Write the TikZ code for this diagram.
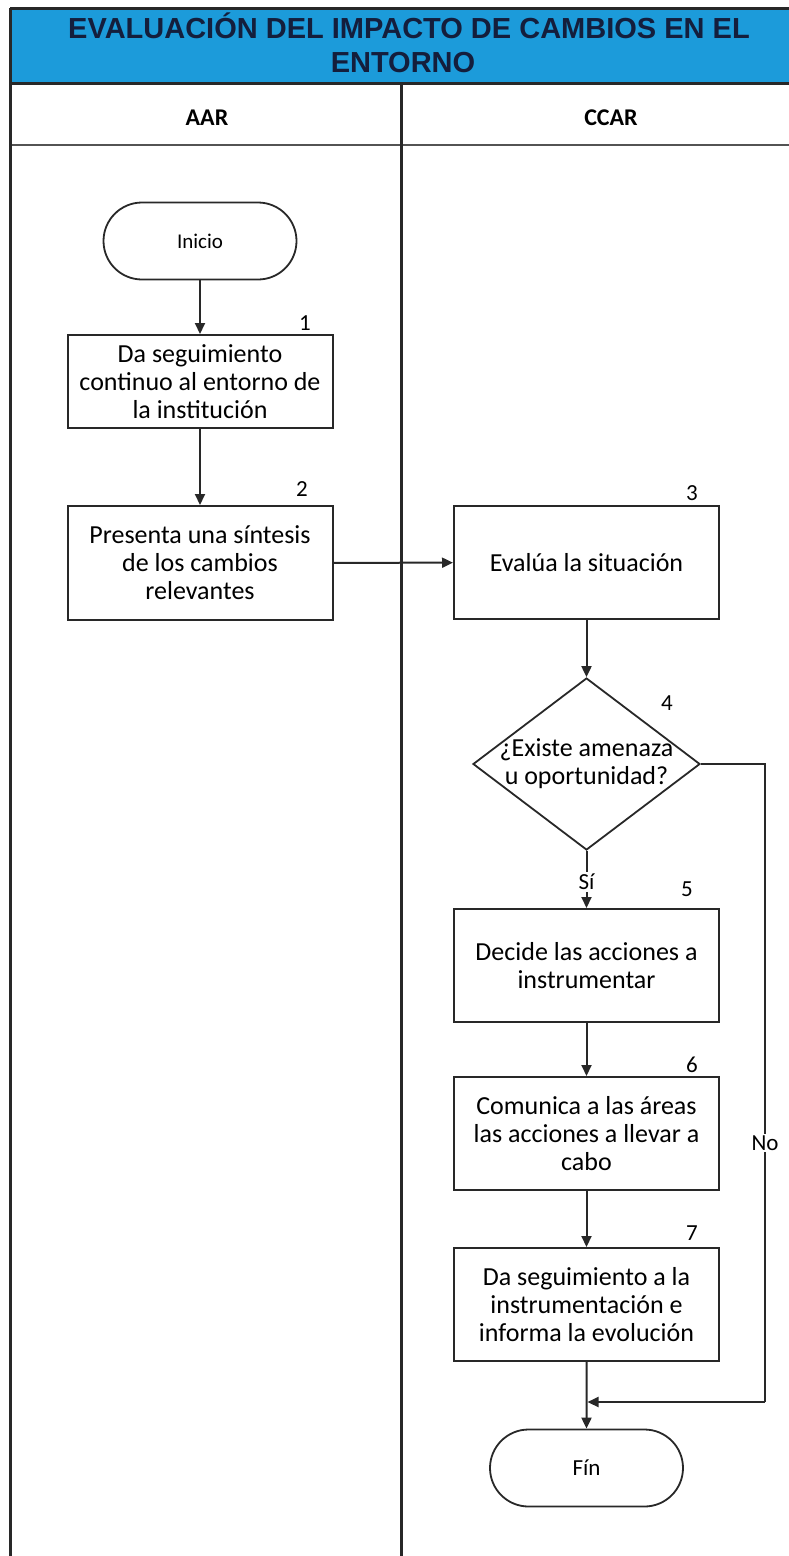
\documentclass[tikz,border=0pt]{standalone}
\usepackage{fontspec}
\setmainfont{Carlito}
\newfontfamily\titlefont{Liberation Sans}
\usetikzlibrary{shapes.geometric,shapes.misc,arrows.meta}
\definecolor{titleblue}{RGB}{28,155,218}
\definecolor{titlenavy}{RGB}{20,30,60}
\definecolor{linegray}{RGB}{40,40,40}
\begin{document}
\begin{tikzpicture}[x=1pt,y=-1pt,
  lane/.style={draw=linegray,line width=3pt},
  stepbox/.style={draw=linegray,line width=2pt,fill=white,align=center,
    minimum width=265pt,minimum height=113pt,inner sep=0pt,
    font=\fontsize{26}{28}\selectfont},
  term/.style={draw=linegray,line width=1.8pt,rounded rectangle,fill=white,
    minimum width=193pt,minimum height=77pt,inner sep=0pt},
  decision/.style={draw=linegray,line width=1.8pt,diamond,fill=white,aspect=1.32,
    minimum width=227pt,minimum height=172pt,inner sep=-30pt,align=center,
    font=\fontsize{26}{28}\selectfont},
  num/.style={font=\fontsize{23}{24}\selectfont,inner sep=0pt},
  lbl/.style={font=\fontsize{23}{24}\selectfont,fill=white,inner sep=2pt},
  hdr/.style={font=\bfseries\fontsize{24}{26}\selectfont},
  ttl/.style={font=\titlefont\bfseries\fontsize{29}{34}\selectfont,text=titlenavy,anchor=base},
  conn/.style={draw=linegray,line width=2pt,-{Triangle[length=11pt,width=10pt]}},
  plain/.style={draw=linegray,line width=2pt}
]
\useasboundingbox (0,0) rectangle (789,1556);
% title band
\fill[titleblue] (10,8) rectangle (789,83);
\draw[lane] (10,8) -- (789,8);
\draw[lane] (10,83) -- (789,83);
\draw[draw=linegray!80,line width=2.4pt] (10,145) -- (789,145);
\draw[lane] (10,8) -- (10,1556);
\draw[lane] (401,83) -- (401,1556);
\node[ttl] (title1) at (409,38) {EVALUACIÓN DEL IMPACTO DE CAMBIOS EN EL};
\node[ttl] (title2) at (403,72) {ENTORNO};
\node[hdr] (hAAR) at (207,118) {AAR};
\node[hdr] (hCCAR) at (611,118) {CCAR};
% nodes
\node[term,font=\fontsize{21}{22}\selectfont] (ini) at (200,241) {Inicio};
\node[stepbox,minimum height=93pt] (b1) at (200,381.5) {Da seguimiento\\continuo al entorno de\\la institución};
\node[stepbox,minimum height=114pt] (b2) at (200,563) {Presenta una síntesis\\de los cambios\\relevantes};
\node[stepbox] (b3) at (586.5,562.5) {Evalúa la situación};
\node[decision] (d4) at (586.5,764) {¿Existe amenaza\\u oportunidad?};
\node[stepbox] (b5) at (586.5,965.5) {Decide las acciones a\\instrumentar};
\node[stepbox] (b6) at (586.5,1133.5) {Comunica a las áreas\\las acciones a llevar a\\cabo};
\node[stepbox] (b7) at (586.5,1304.5) {Da seguimiento a la\\instrumentación e\\informa la evolución};
\node[term,font=\fontsize{23}{24}\selectfont] (fin) at (586.5,1468) {Fín};
% numbers
\node[num] (n1) at (305,323) {1};
\node[num] (n2) at (302,489) {2};
\node[num] (n3) at (692,493) {3};
\node[num] (n4) at (667,703) {4};
\node[num] (n5) at (687,889) {5};
\node[num] (n6) at (692,1065) {6};
\node[num] (n7) at (692,1233) {7};
% connectors
\draw[conn] (ini) -- (b1);
\draw[conn] (b1) -- (b2);
\draw[conn] (b2) -- (b3);
\draw[conn] (b3) -- (d4);
\draw[conn] (d4) -- node[lbl,pos=0.54] (si) {Sí} (b5);
\draw[conn] (b5) -- (b6);
\draw[conn] (b6) -- (b7);
\draw[conn] (b7) -- (fin);
\coordinate (c1) at (765,764);
\coordinate (c2) at (765,1402);
\coordinate (merge) at (587.5,1402);
\draw[plain] (d4.east) -- (c1) -- node[lbl,pos=0.594] (no) {No} (c2);
\draw[conn] (c2) -- (merge);
\end{tikzpicture}
\end{document}
